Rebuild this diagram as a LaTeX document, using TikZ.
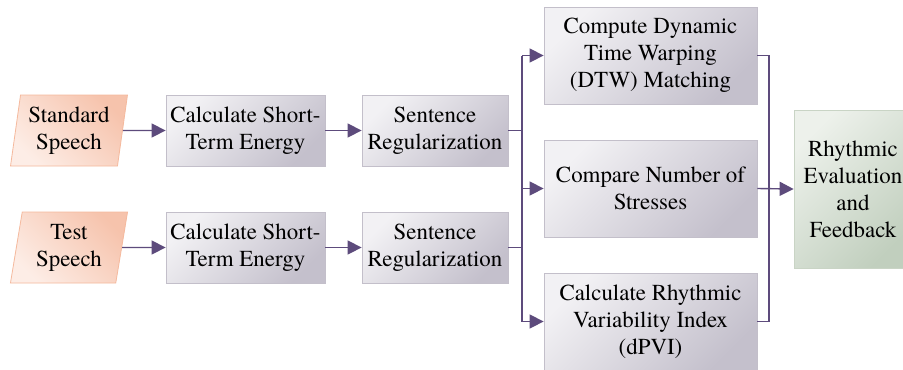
\documentclass[tikz,border=0pt]{standalone}
\usepackage{fontspec}
\setmainfont{TeX Gyre Termes}
\usetikzlibrary{shapes.geometric,arrows.meta}
\definecolor{arr}{HTML}{5D4B7C}
\definecolor{pkA}{HTML}{FDEDE6}
\definecolor{pkB}{HTML}{F6C3AC}
\definecolor{pkL}{HTML}{F5B99D}
\definecolor{gyA}{HTML}{F2F1F4}
\definecolor{gyB}{HTML}{C4C0CC}
\definecolor{gyL}{HTML}{C3BFCA}
\definecolor{grA}{HTML}{EDF1EB}
\definecolor{grB}{HTML}{C1CFBE}
\definecolor{grL}{HTML}{C9D4C5}
\tikzset{
  txt/.style={font=\fontsize{23}{27}\selectfont, align=center, inner sep=0pt},
  inbox/.style={txt, trapezium, trapezium left angle=80, trapezium right angle=100,
    trapezium stretches=true, minimum width=118bp, minimum height=71bp,
    draw=pkL, line width=0.8bp, left color=pkA, right color=pkB, shading angle=135},
  graybox/.style={txt, rectangle, draw=gyL, line width=0.8bp,
    left color=gyA, right color=gyB, shading angle=45},
  greenbox/.style={txt, rectangle, draw=grL, line width=0.8bp,
    left color=grA, right color=grB, shading angle=45},
  conn/.style={draw=arr, line width=1.4bp},
  arrow/.style={conn, -{Triangle[length=14bp,width=14bp]}}
}
\begin{document}
\begin{tikzpicture}[x=1bp,y=-1bp]
\useasboundingbox (0,0) rectangle (903,369);
\fill[white] (0,0) rectangle (903,369);
\node[inbox] (ss) at (69,130.5) {Standard\\Speech};
\node[inbox] (ts) at (69,247.5) {Test\\Speech};
\node[graybox, minimum width=159bp, minimum height=71bp] (c1) at (245.5,130.5) {Calculate Short-\\Term Energy};
\node[graybox, minimum width=159bp, minimum height=71bp] (c2) at (245.5,247.5) {Calculate Short-\\Term Energy};
\node[graybox, minimum width=146bp, minimum height=71bp] (r1) at (435,130.5) {Sentence\\Regularization};
\node[graybox, minimum width=146bp, minimum height=71bp] (r2) at (435,247.5) {Sentence\\Regularization};
\node[graybox, minimum width=213bp, minimum height=97bp] (d1) at (650.5,55.5) {Compute Dynamic\\Time Warping\\(DTW) Matching};
\node[graybox, minimum width=213bp, minimum height=97bp] (d2) at (650.5,188.5) {Compare Number of\\Stresses};
\node[graybox, minimum width=213bp, minimum height=97bp] (d3) at (650.5,321.5) {Calculate Rhythmic\\Variability Index\\(dPVI)};
\node[greenbox, minimum width=118bp, minimum height=158bp] (f) at (853,189) {Rhythmic\\Evaluation\\and\\Feedback};
\coordinate (bx) at (522,0);
\coordinate (mx) at (769,0);
\draw[arrow] (ss.east) -- (c1.west);
\draw[arrow] (ts.east) -- (c2.west);
\draw[arrow] (c1.east) -- (r1.west);
\draw[arrow] (c2.east) -- (r2.west);
\draw[conn] (r1.east) -- (r1.east -| bx);
\draw[conn] (r2.east) -- (r2.east -| bx);
\draw[conn] (bx |- d1.west) -- (bx |- d3.west);
\draw[arrow] (bx |- d1.west) -- (d1.west);
\draw[arrow] (bx |- d2.west) -- (d2.west);
\draw[arrow] (bx |- d3.west) -- (d3.west);
\draw[conn] (d1.east) -- (d1.east -| mx) -- (d3.east -| mx) -- (d3.east);
\draw[arrow] (d2.east) -- (f.west);
\end{tikzpicture}
\end{document}
